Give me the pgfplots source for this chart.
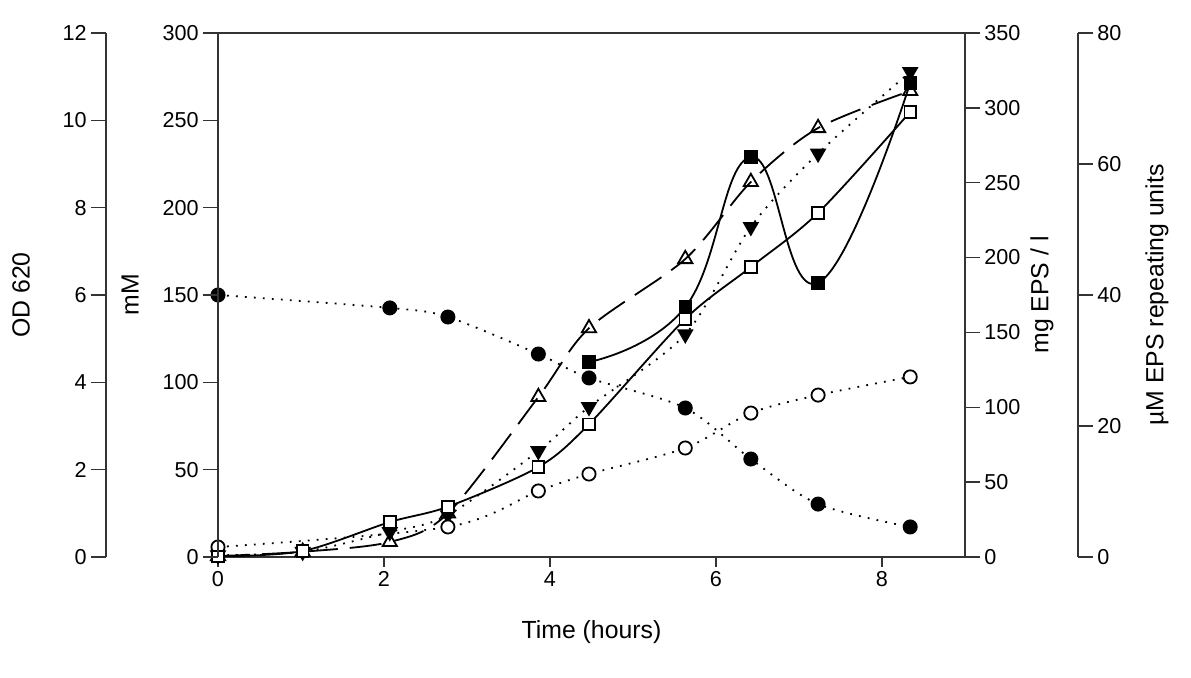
\documentclass[border=0pt]{standalone}
\usepackage{fontspec}
\setmainfont{Liberation Sans}
\usepackage{pgfplots}
\usepackage{pgfplotstable}
\pgfplotsset{compat=1.18}

% time (h) vs value, all read on the mM scale
\pgfplotstableread{
t v
0    150
2.07 142.6
2.77 137.4
3.86 116.2
4.47 102.5
5.63 85.3
6.42 56.1
7.23 30.3
8.34 17.2
}\fcirc
\pgfplotstableread{
t v
0    5.7
2.77 17.2
3.86 37.8
4.47 47.5
5.63 62.4
6.42 82.4
7.23 92.7
8.34 103.1
}\ocirc
\pgfplotstableread{
t v
0    0.3
1.02 3.4
2.07 20
2.77 28.8
3.86 51.5
4.47 76
5.63 136.3
6.42 166
7.23 197
8.34 254.8
}\osq
\pgfplotstableread{
t v
4.47 111.6
5.63 143.1
6.42 229
7.23 156.9
8.34 271.4
}\fsq
\pgfplotstableread{
t v
0    1
1.02 3
2.07 14.3
2.77 24
3.86 60.7
4.47 85.9
5.63 127.5
6.42 189
7.23 231
8.34 277.7
}\itri
\pgfplotstableread{
t v
0    0.5
1.02 3
2.07 8.6
2.77 25
3.86 91.6
4.47 131
5.63 170.6
6.42 214.7
7.23 245.6
8.34 266.8
}\otri

\pgfplotsset{
  every axis/.append style={
    scale only axis, width=373.5pt, height=262pt,
    tick align=outside,
    /pgf/number format/assume math mode=true,
    tick label style={font=\fontsize{10.8}{12}\selectfont, inner sep=2pt},
    label style={font=\fontsize{12.4}{14}\selectfont},
    axis line style={line width=0.8pt, black!80},
    every tick/.style={black!80, line width=0.7pt},
  },
  dotline/.style={line width=0.9pt, dash pattern=on 0.9pt off 3.6pt, smooth},
}

\begin{document}
\begin{tikzpicture}
\useasboundingbox (-109pt,-60.5pt) rectangle (486.5pt,278.5pt);

\begin{axis}[name=main, at={(0,0)}, anchor=south west,
  xmin=0, xmax=9, ymin=0, ymax=300,
  xtick={0,2,4,6,8}, ytick=\empty, xtick pos=left,
  major tick length=5pt,
  xlabel={Time (hours)},
  xlabel style={at={(axis description cs:0.5,0)}, anchor=center, yshift=-37.5pt},
  mark size=3.3pt]
\addplot[black, line width=0.9pt, smooth, dash pattern=on 16pt off 6pt,
  mark=triangle, mark size=4.1pt, mark options={solid, fill=white}] table {\otri};
\addplot[black, dotline,
  mark=triangle*, mark size=3.9pt, mark options={solid, rotate=180}] table {\itri};
\addplot[black, dotline, mark=*, mark options={solid, fill=white}] table {\ocirc};
\addplot[black, dotline, mark=*, mark options={solid}] table {\fcirc};
\addplot[black, line width=0.9pt, smooth, tension=0.75,
  mark=square*, mark size=2.9pt] table {\fsq};
\addplot[black, line width=0.9pt, smooth,
  mark=square*, mark size=2.9pt, mark options={fill=white}] table {\osq};
\end{axis}

% mM axis
\begin{axis}[at={(0,0)}, anchor=south west,
  hide x axis, axis y line*=left, xmin=0, xmax=1,
  ymin=0, ymax=300, ytick={0,50,...,300}, major tick length=7.5pt,
  ylabel={mM},
  ylabel style={at={(axis description cs:-0.1178,0.5)}, anchor=center}]
\end{axis}

% OD axis
\begin{axis}[at={(-56pt,0)}, anchor=south west,
  hide x axis, axis y line*=left, xmin=0, xmax=1,
  ymin=0, ymax=12, ytick={0,2,...,12}, major tick length=7.5pt,
  ylabel={OD 620},
  ylabel style={at={(axis description cs:-0.1138,0.5)}, anchor=center}]
\end{axis}

% mg EPS / l axis
\begin{axis}[at={(0,0)}, anchor=south west,
  hide x axis, axis y line*=right, xmin=0, xmax=1,
  ymin=0, ymax=350, ytick={0,50,...,350}, major tick length=7.5pt,
  ylabel={mg EPS / l},
  ylabel style={at={(axis description cs:1.1031,0.5)}, anchor=center}]
\end{axis}

% uM EPS repeating units axis
\begin{axis}[at={(56.5pt,0)}, anchor=south west,
  hide x axis, axis y line*=right, xmin=0, xmax=1,
  ymin=0, ymax=80, ytick={0,20,...,80}, major tick length=7.5pt,
  ylabel={µM EPS repeating units},
  ylabel style={at={(axis description cs:1.1058,0.5)}, anchor=center}]
\end{axis}
\end{tikzpicture}
\end{document}
